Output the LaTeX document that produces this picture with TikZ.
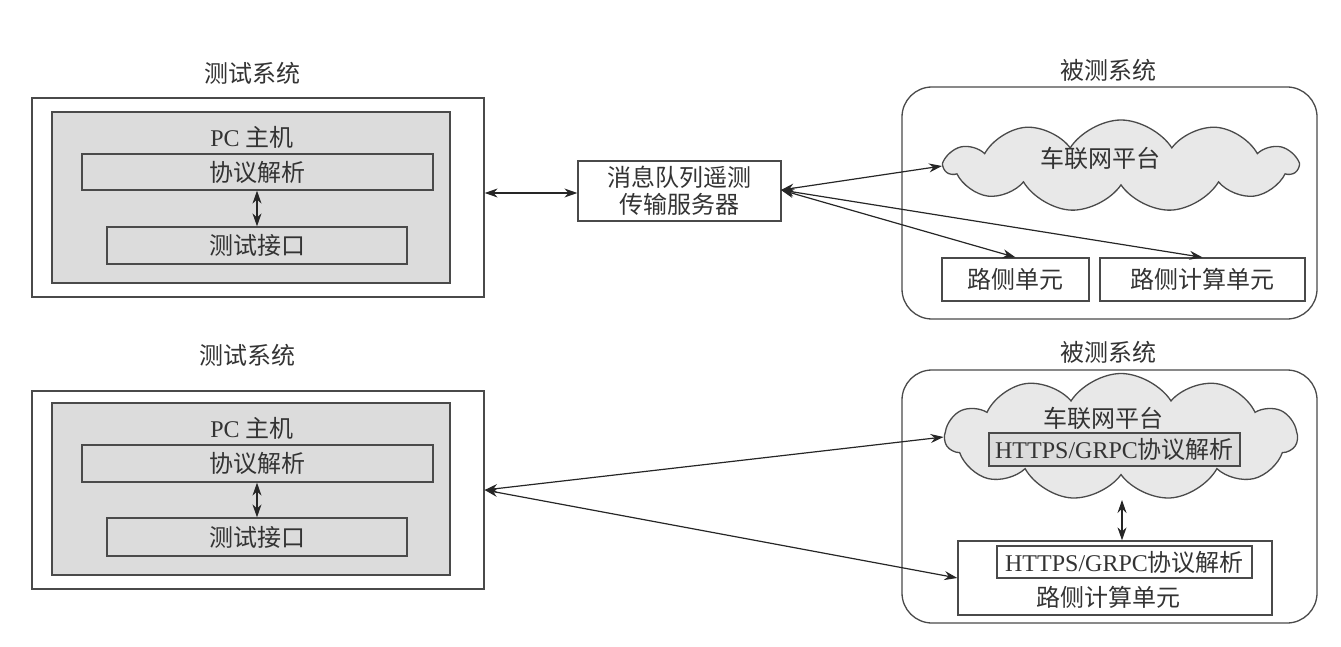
\documentclass[tikz,border=0pt]{standalone}
\usepackage{fontspec}
\setmainfont{Liberation Serif}
\newfontfamily\cjk{Noto Sans CJK SC}
\usetikzlibrary{arrows.meta,shapes.symbols}
\definecolor{ln}{HTML}{4A4A4A}
\definecolor{txt}{HTML}{333333}
\definecolor{grayfill}{HTML}{DCDCDC}
\definecolor{cloudfill}{HTML}{E8E8E8}
\tikzset{
  every node/.style={font=\fontsize{24}{29}\selectfont\cjk, text=txt},
  box/.style={draw=ln, line width=1.3pt, inner sep=0pt},
  graybox/.style={box, fill=grayfill},
  sysbox/.style={box, rounded corners=30pt},
  cloudnode/.style={draw=ln, line width=1.3pt, fill=cloudfill, cloud, cloud puffs=11, cloud puff arc=115, inner sep=0pt},
  lbl/.style={inner sep=0pt},
  conn/.style={draw=black!85, line width=1.2pt, {Stealth[length=13pt,width=9pt]}-{Stealth[length=13pt,width=9pt]}},
}
\newcommand{\lat}[1]{{\fontspec{Liberation Serif}#1}}
\begin{document}
\begin{tikzpicture}[x=1pt,y=-1pt]
\useasboundingbox (0,0) rectangle (1341,647);
% ---------- top left
\node[lbl] (title1) at (252,73) {测试系统};
\node[box, minimum width=452pt, minimum height=199pt] (outer1) at (258,197.5) {};
\node[graybox, minimum width=398pt, minimum height=171pt] (gray1) at (251,197.5) {};
\node[lbl] (pc1) at (252,137) {\lat{PC }主机};
\node[box, minimum width=351pt, minimum height=36pt] (proto1) at (257.5,172) {协议解析};
\node[box, minimum width=300pt, minimum height=37pt] (test1) at (257,245.5) {测试接口};
\draw[conn] (proto1.south -| 257,0) -- (test1.north -| 257,0);
% ---------- server
\node[box, minimum width=203pt, minimum height=60pt, align=center, font=\fontsize{24}{27}\selectfont\cjk] (srv) at (679.5,191) {消息队列遥测\\传输服务器};
\draw[conn] (outer1.east |- 0,193) -- (srv.west |- 0,193);
% ---------- top right
\node[lbl] (title2) at (1108,70) {被测系统};
\node[sysbox, minimum width=415pt, minimum height=232pt] (sys1) at (1109.5,203) {};
\node[cloudnode, minimum width=352pt, minimum height=92pt, aspect=3.8] (cloud1) at (1121,166) {};
\node[lbl] (cl1) at (1100,158) {车联网平台};
\node[box, minimum width=147pt, minimum height=43pt] (rsu1) at (1015.5,279.5) {路侧单元};
\node[box, minimum width=205pt, minimum height=43pt] (rcu1) at (1202.5,279.5) {路侧计算单元};
\coordinate (sp) at (781,190);
\draw[conn] (sp) -- (cloud1.west);
\draw[conn] (sp) -- (rsu1.north);
\draw[conn] (sp) -- (rcu1.north);
% ---------- bottom left
\node[lbl] (title3) at (247,355) {测试系统};
\node[box, minimum width=452pt, minimum height=198pt] (outer2) at (258,490) {};
\node[graybox, minimum width=398pt, minimum height=172pt] (gray2) at (251,489) {};
\node[lbl] (pc2) at (252,428) {\lat{PC }主机};
\node[box, minimum width=351pt, minimum height=37pt] (proto2) at (257.5,463.5) {协议解析};
\node[box, minimum width=300pt, minimum height=38pt] (test2) at (257,537) {测试接口};
\draw[conn] (proto2.south -| 257,0) -- (test2.north -| 257,0);
% ---------- bottom right
\node[lbl] (title4) at (1108,352) {被测系统};
\node[sysbox, minimum width=415pt, minimum height=253pt] (sys2) at (1109.5,496.5) {};
\node[cloudnode, minimum width=352pt, minimum height=127pt, aspect=2.8] (cloud2) at (1121,437) {};
\node[lbl] (cl2) at (1103,418) {车联网平台};
\node[graybox, minimum width=251pt, minimum height=33pt] (http1) at (1114.5,449.5) {\lat{HTTPS/GRPC}协议解析};
\node[box, minimum width=314pt, minimum height=74pt] (rcu2) at (1115,578) {};
\node[box, minimum width=255pt, minimum height=32pt] (http2) at (1124.5,562) {\lat{HTTPS/GRPC}协议解析};
\node[lbl] (rcu2l) at (1108,597) {路侧计算单元};
\coordinate (vt) at (1122,500);
\draw[conn] (vt) -- (vt |- rcu2.north);
\draw[conn] (outer2.east) -- (cloud2.west);
\draw[conn] (outer2.east) -- (rcu2.west);
\end{tikzpicture}
\end{document}
